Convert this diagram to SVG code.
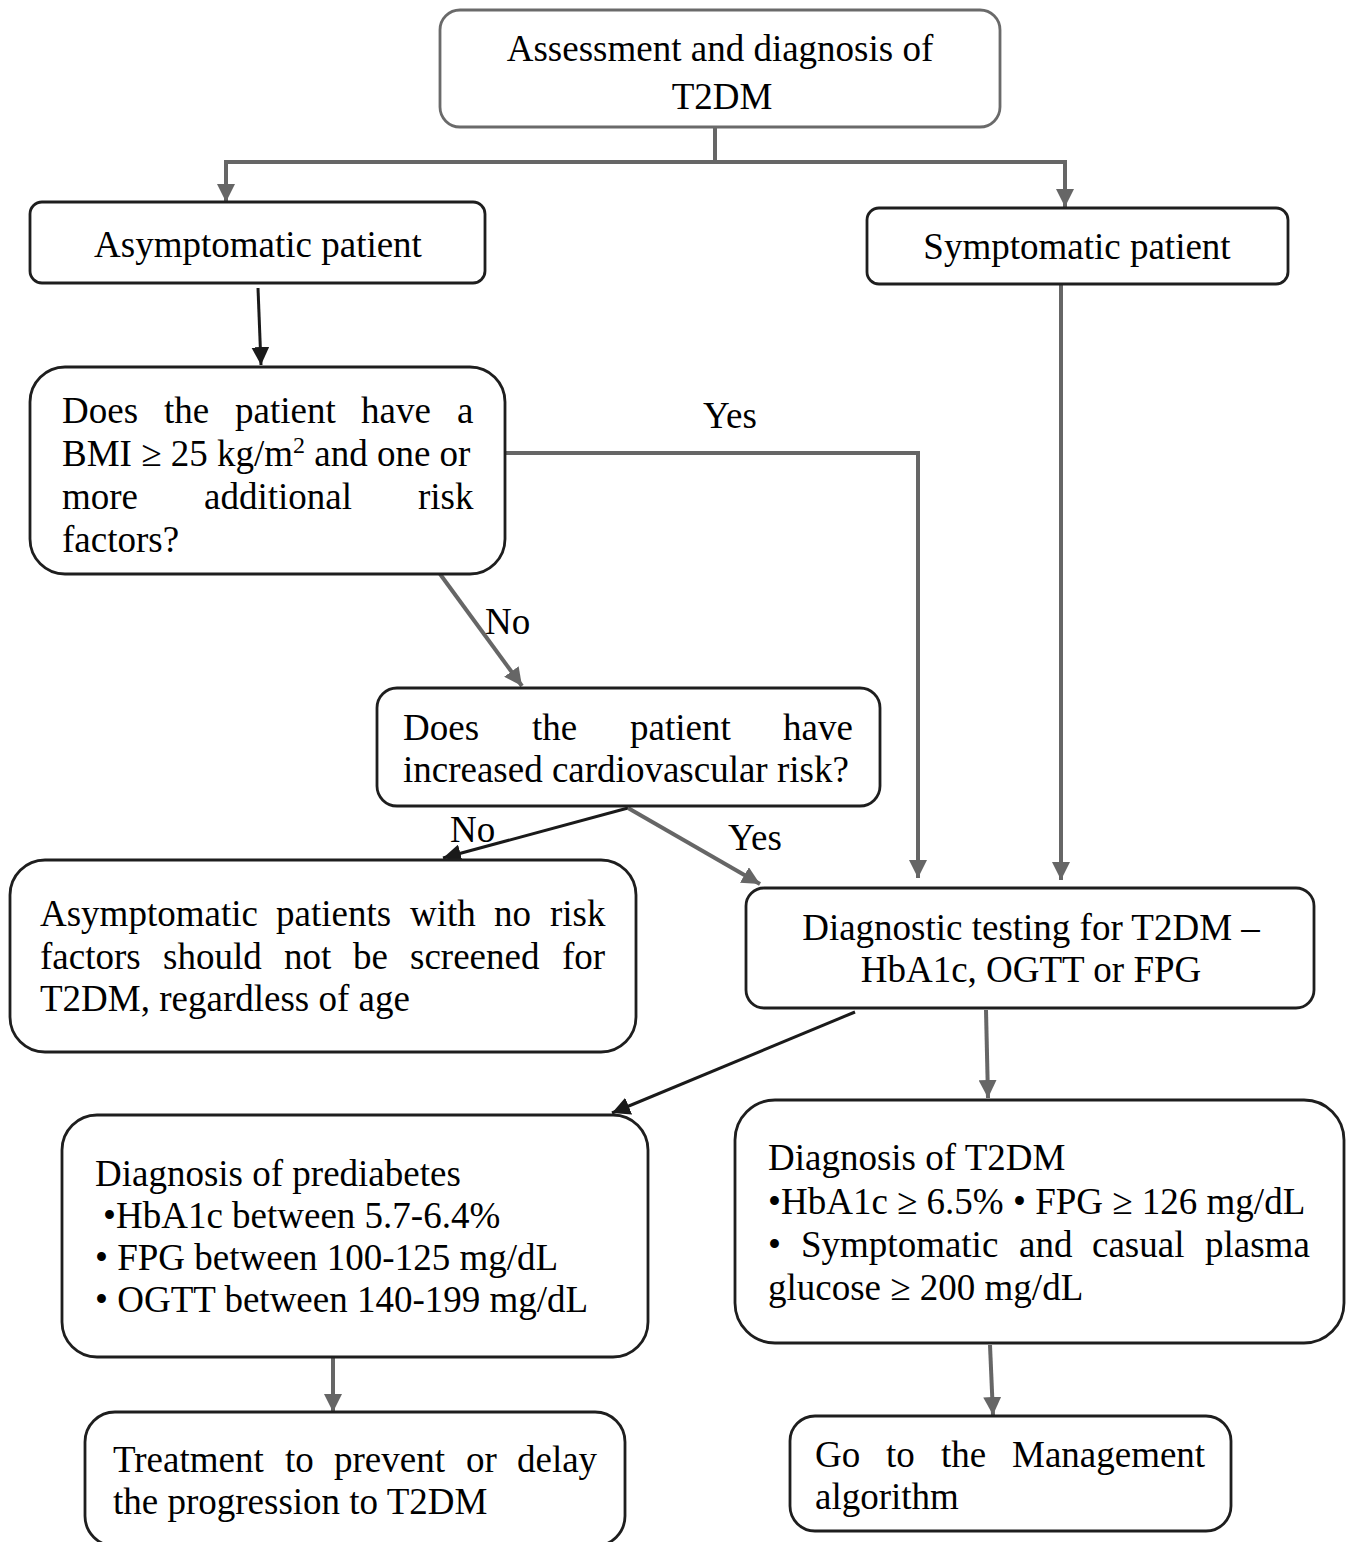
<svg xmlns="http://www.w3.org/2000/svg" width="1349" height="1542" viewBox="0 0 1349 1542">
<style>
text{font-family:"Liberation Serif","Times New Roman",serif;font-size:37px;fill:#000}
.box{fill:#fff;stroke:#1e1e1e;stroke-width:2.8}
.gbox{fill:#fff;stroke:#6a6a6a;stroke-width:2.8}
.g{fill:none;stroke:#666;stroke-width:4}
.k{fill:none;stroke:#1a1a1a;stroke-width:3}
.mid{text-anchor:middle}
</style>
<defs>
<marker id="ag" markerUnits="userSpaceOnUse" markerWidth="20" markerHeight="18" refX="18" refY="9" orient="auto">
<path d="M0,0 L18,9 L0,18 Z" fill="#666"/>
</marker>
<marker id="ak" markerUnits="userSpaceOnUse" markerWidth="20" markerHeight="18" refX="18" refY="9" orient="auto">
<path d="M0,0 L18,9 L0,18 Z" fill="#1a1a1a"/>
</marker>
</defs>
<rect width="1349" height="1542" fill="#fff"/>

<g id="connectors">
<path class="g" d="M715,127 V162"/>
<path class="g" d="M224,162 H1067"/>
<path class="g" d="M226,162 V202" marker-end="url(#ag)"/>
<path class="g" d="M1065,162 V207" marker-end="url(#ag)"/>
<path class="k" d="M258,288 L261,365" marker-end="url(#ak)"/>
<path class="g" d="M505,453 H918 V878" marker-end="url(#ag)"/>
<path class="g" d="M1061,284 V880" marker-end="url(#ag)"/>
<path class="g" d="M440,574 L522,686" marker-end="url(#ag)"/>
<path class="k" d="M628,808 L443,858" marker-end="url(#ak)"/>
<path class="g" d="M628,808 L760,884" marker-end="url(#ag)"/>
<path class="k" d="M855,1012 L612,1113" marker-end="url(#ak)"/>
<path class="g" d="M986,1010 L988,1098" marker-end="url(#ag)"/>
<path class="g" d="M333,1358 V1412" marker-end="url(#ag)"/>
<path class="g" d="M990,1345 L993,1415" marker-end="url(#ag)"/>
<text x="703" y="428">Yes</text>
<text x="485" y="634">No</text>
<text x="450" y="842">No</text>
<text x="728" y="850">Yes</text>
</g>

<g id="n-assessment">
<rect class="gbox" x="440" y="10" width="560" height="117" rx="20"/>
<text class="mid" x="720" y="61">Assessment and diagnosis of</text>
<text class="mid" x="722" y="109">T2DM</text>
</g>

<g id="n-asymptomatic">
<rect class="box" x="30" y="202" width="455" height="81" rx="12"/>
<text class="mid" x="258" y="257">Asymptomatic patient</text>
</g>

<g id="n-symptomatic">
<rect class="box" x="867" y="208" width="421" height="76" rx="12"/>
<text class="mid" x="1077" y="259">Symptomatic patient</text>
</g>

<g id="n-bmi">
<rect class="box" x="30" y="367" width="475" height="207" rx="35"/>
<text y="423"><tspan x="62">Does</tspan><tspan x="164">the</tspan><tspan x="235">patient</tspan><tspan x="361">have</tspan><tspan x="457">a</tspan></text>
<text x="62" y="466">BMI ≥ 25 kg/m<tspan dy="-13" font-size="24">2</tspan><tspan dy="13"> and one or</tspan></text>
<text y="509"><tspan x="62">more</tspan><tspan x="204">additional</tspan><tspan x="418">risk</tspan></text>
<text x="62" y="552">factors?</text>
</g>

<g id="n-cardio">
<rect class="box" x="377" y="688" width="503" height="118" rx="20"/>
<text y="740"><tspan x="403">Does</tspan><tspan x="532">the</tspan><tspan x="630">patient</tspan><tspan x="783">have</tspan></text>
<text x="403" y="782">increased cardiovascular risk?</text>
</g>

<g id="n-noscreen">
<rect class="box" x="10" y="860" width="626" height="192" rx="35"/>
<text y="926"><tspan x="40">Asymptomatic</tspan><tspan x="276">patients</tspan><tspan x="410">with</tspan><tspan x="494">no</tspan><tspan x="550">risk</tspan></text>
<text y="969"><tspan x="40">factors</tspan><tspan x="163">should</tspan><tspan x="284">not</tspan><tspan x="353">be</tspan><tspan x="410">screened</tspan><tspan x="562">for</tspan></text>
<text x="40" y="1011">T2DM, regardless of age</text>
</g>

<g id="n-testing">
<rect class="box" x="746" y="888" width="568" height="120" rx="18"/>
<text class="mid" x="1031" y="940">Diagnostic testing for T2DM –</text>
<text class="mid" x="1031" y="982">HbA1c, OGTT or FPG</text>
</g>

<g id="n-prediabetes">
<rect class="box" x="62" y="1115" width="586" height="242" rx="35"/>
<text x="95" y="1186">Diagnosis of prediabetes</text>
<text x="103" y="1228">•HbA1c between 5.7-6.4%</text>
<text x="95" y="1270">• FPG between 100-125 mg/dL</text>
<text x="95" y="1312">• OGTT between 140-199 mg/dL</text>
</g>

<g id="n-t2dm">
<rect class="box" x="735" y="1100" width="609" height="243" rx="40"/>
<text x="768" y="1170">Diagnosis of T2DM</text>
<text x="768" y="1214">•HbA1c ≥ 6.5% • FPG ≥ 126 mg/dL</text>
<text y="1257"><tspan x="768">•</tspan><tspan x="801">Symptomatic</tspan><tspan x="1019">and</tspan><tspan x="1092">casual</tspan><tspan x="1205">plasma</tspan></text>
<text x="768" y="1300">glucose ≥ 200 mg/dL</text>
</g>

<g id="n-treatment">
<rect class="box" x="85" y="1412" width="540" height="134" rx="30"/>
<text y="1472"><tspan x="113">Treatment</tspan><tspan x="285">to</tspan><tspan x="334">prevent</tspan><tspan x="466">or</tspan><tspan x="517">delay</tspan></text>
<text x="113" y="1514">the progression to T2DM</text>
</g>

<g id="n-management">
<rect class="box" x="790" y="1416" width="441" height="115" rx="25"/>
<text y="1467"><tspan x="815">Go</tspan><tspan x="886">to</tspan><tspan x="941">the</tspan><tspan x="1012">Management</tspan></text>
<text x="815" y="1509">algorithm</text>
</g>
</svg>
